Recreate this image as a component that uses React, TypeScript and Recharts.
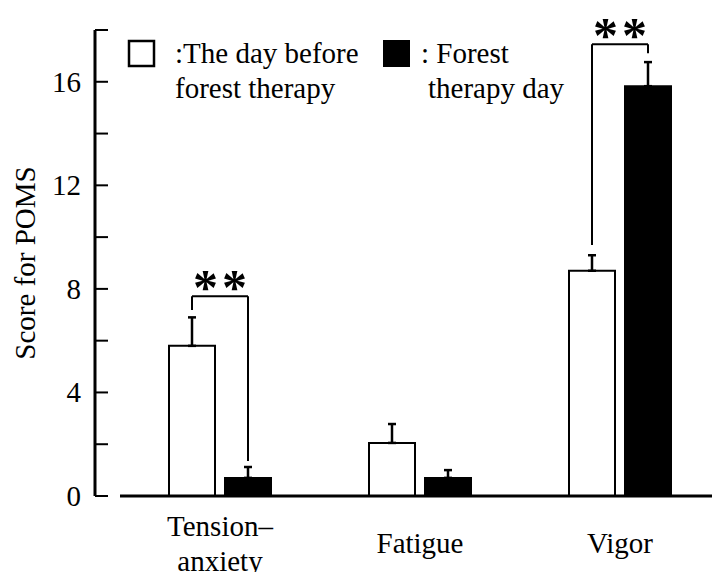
import React from 'react';
import {
  ComposedChart,
  Bar,
  XAxis,
  YAxis,
  ErrorBar,
  ReferenceLine,
  ReferenceDot,
  Legend,
} from 'recharts';

const categories = ['Tension–anxiety', 'Fatigue', 'Vigor'];
const categoryLines = [['Tension–', 'anxiety'], ['Fatigue'], ['Vigor']];
const beforeValues = [5.8, 2.05, 8.7];
const beforeSE = [1.1, 0.73, 0.6];
const forestValues = [0.7, 0.7, 15.83];
const forestSE = [0.42, 0.3, 0.93];
const yTicks = [0, 2, 4, 6, 8, 10, 12, 14, 16, 18];
const yLabelTicks = [0, 4, 8, 12, 16];

// significance brackets
const bracketIndex = [0, 2];
const bracketLeftBottom = [7.18, 9.7];
const bracketTop = [7.72, 17.45];
const bracketRightBottom = [1.35, 17.1];
const bracketText = ['**', '**'];

const FONT = 'Liberation Serif';
const BAR_SIZE = 46;
const BAR_GAP = 10;
const BAND = 200;
const AXIS_GAP = 25;
const HALF = (BAR_SIZE + BAR_GAP) / 2 / BAND;

const data = categories.map((c, i) => ({
  cat: c,
  pos: i,
  before: beforeValues[i],
  beforeErr: [0, beforeSE[i]],
  forest: forestValues[i],
  forestErr: [0, forestSE[i]],
}));

const txt = { fontFamily: FONT, fontSize: 29, fill: '#000' };

const YTick = (props: any) => {
  const { x, y, payload } = props;
  if (!yLabelTicks.includes(payload.value)) return null;
  return (
    <text x={x} y={y} dy={10} textAnchor="end" style={txt}>
      {payload.value}
    </text>
  );
};

const XTick = (props: any) => {
  const { x, y, index } = props;
  const lines = categoryLines[index] || [];
  const n = lines.length;
  return (
    <text textAnchor="middle" style={txt}>
      {lines.map((l, k) => (
        <tspan key={k} x={x} y={y + 57 - ((n - 1) * 35) / 2 + k * 35}>
          {l}
        </tspan>
      ))}
    </text>
  );
};

const YLabel = (props: any) => {
  const { viewBox } = props;
  const cy = viewBox ? viewBox.y + viewBox.height / 2 : 263;
  return (
    <text transform={`translate(35, ${cy}) rotate(-90)`} x={0} y={0} textAnchor="middle" style={txt}>
      Score for POMS
    </text>
  );
};

const LegendContent = () => (
  <svg width={712} height={110} style={{ display: 'block' }}>
    <rect x={129} y={41} width={25} height={25} fill="#fff" stroke="#000" strokeWidth={2.5} />
    <text style={txt}>
      <tspan x={175} y={63}>:The day before</tspan>
      <tspan x={175} y={98}>forest therapy</tspan>
    </text>
    <rect x={383} y={40} width={27} height={27} fill="#000" />
    <text style={txt}>
      <tspan x={421} y={63}>: Forest</tspan>
      <tspan x={428} y={98}>therapy day</tspan>
    </text>
  </svg>
);

const StarLabel = (text: string) => (props: any) => {
  const { viewBox } = props;
  const cx = viewBox.x + (viewBox.width || 0) / 2;
  const cy = viewBox.y + (viewBox.height || 0) / 2;
  return (
    <text
      x={cx + 2}
      y={cy + 8}
      textAnchor="middle"
      style={{ fontFamily: FONT, fontSize: 50, fontWeight: 700, letterSpacing: 4, fill: '#000' }}
    >
      {text}
    </text>
  );
};

export default function App() {
  return (
    <div
      style={{
        position: 'absolute',
        left: 0,
        top: 0,
        width: 712,
        height: 572,
        overflow: 'hidden',
        background: '#fff',
        fontFamily: FONT,
      }}
    >
      <ComposedChart
        width={720}
        height={572}
        data={data}
        margin={{ top: 30, right: 0, bottom: 0, left: 0 }}
        barSize={BAR_SIZE}
        barGap={BAR_GAP}
      >
        <XAxis
          dataKey="cat"
          xAxisId={0}
          interval={0}
          height={76}
          tickSize={0}
          tickMargin={0}
          tickLine={false}
          axisLine={false}
          padding={{ left: AXIS_GAP, right: 0 }}
          tick={<XTick />}
        />
        <XAxis
          xAxisId="n"
          dataKey="pos"
          type="number"
          domain={[0, 2]}
          padding={{ left: AXIS_GAP + BAND / 2, right: BAND / 2 }}
          hide
        />
        <YAxis
          yAxisId="main"
          width={95}
          domain={[0, 18]}
          ticks={yTicks}
          interval={0}
          allowDataOverflow
          axisLine={{ stroke: '#000', strokeWidth: 3 }}
          tickLine={{ stroke: '#000', strokeWidth: 2 }}
          tickSize={-13}
          tickMargin={27}
          tick={<YTick />}
          label={<YLabel />}
        />
        <Legend
          verticalAlign="middle"
          align="center"
          layout="horizontal"
          wrapperStyle={{ position: 'absolute', left: 0, top: 0, width: 712, height: 110 }}
          content={<LegendContent />}
        />
        <Bar dataKey="before" yAxisId="main" fill="#fff" stroke="#000" strokeWidth={2} isAnimationActive={false}>
          <ErrorBar dataKey="beforeErr" width={4} strokeWidth={2.5} stroke="#000" direction="y" />
        </Bar>
        <Bar dataKey="forest" yAxisId="main" fill="#000" stroke="#000" strokeWidth={2} isAnimationActive={false}>
          <ErrorBar dataKey="forestErr" width={4} strokeWidth={2.5} stroke="#000" direction="y" />
        </Bar>
        <ReferenceLine
          xAxisId="n"
          yAxisId="main"
          stroke="#000"
          strokeWidth={3}
          ifOverflow="visible"
          segment={[
            { x: -0.5, y: 0 },
            { x: 2.5, y: 0 },
          ]}
        />
        {bracketIndex.map((ci, b) => (
          <ReferenceLine
            key={`l${b}`}
            xAxisId="n"
            yAxisId="main"
            stroke="#000"
            strokeWidth={2}
            ifOverflow="visible"
            segment={[
              { x: ci - HALF, y: bracketLeftBottom[b] },
              { x: ci - HALF, y: bracketTop[b] },
            ]}
          />
        ))}
        {bracketIndex.map((ci, b) => (
          <ReferenceLine
            key={`t${b}`}
            xAxisId="n"
            yAxisId="main"
            stroke="#000"
            strokeWidth={2}
            ifOverflow="visible"
            segment={[
              { x: ci - HALF, y: bracketTop[b] },
              { x: ci + HALF, y: bracketTop[b] },
            ]}
          />
        ))}
        {bracketIndex.map((ci, b) => (
          <ReferenceLine
            key={`r${b}`}
            xAxisId="n"
            yAxisId="main"
            stroke="#000"
            strokeWidth={2}
            ifOverflow="visible"
            segment={[
              { x: ci + HALF, y: bracketTop[b] },
              { x: ci + HALF, y: bracketRightBottom[b] },
            ]}
          />
        ))}
        {bracketIndex.map((ci, b) => (
          <ReferenceDot
            key={`s${b}`}
            xAxisId="n"
            yAxisId="main"
            x={ci}
            y={bracketTop[b]}
            r={0}
            fill="none"
            stroke="none"
            ifOverflow="visible"
            label={StarLabel(bracketText[b])}
          />
        ))}
      </ComposedChart>
    </div>
  );
}
